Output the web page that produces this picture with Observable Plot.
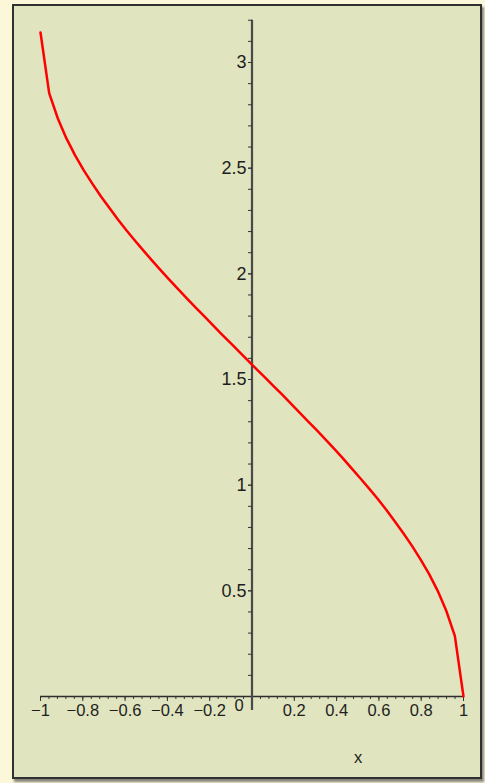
<!DOCTYPE html>
<html><head><meta charset="utf-8">
<script src="https://cdn.jsdelivr.net/npm/d3@7"></script>
<script src="https://cdn.jsdelivr.net/npm/@observablehq/plot@0.6"></script>
<style>
html,body{margin:0;padding:0;background:#fdf7da;width:485px;height:783px;overflow:hidden;}
#frame{position:absolute;left:12px;top:4px;width:470px;height:775px;box-sizing:border-box;background:#e0e4bf;border:2px solid #303030;box-shadow:2px 3px 2px rgba(60,60,60,0.6);}
#chart{position:absolute;left:0;top:0;}
</style></head><body>
<div id="frame"></div><div id="chart"></div>
<script>
// curve samples (x, arccos-like values)
const xs = [-1,-0.959,-0.918,-0.878,-0.837,-0.796,-0.755,-0.714,-0.673,-0.633,-0.592,-0.551,-0.510,-0.469,-0.429,-0.388,-0.347,-0.306,-0.265,-0.224,-0.184,-0.143,-0.102,-0.061,-0.020,
            0.020,0.061,0.102,0.143,0.184,0.224,0.265,0.306,0.347,0.388,0.429,0.469,0.510,0.551,0.592,0.633,0.673,0.714,0.755,0.796,0.837,0.878,0.918,0.959,1];
const ys = [3.142,2.855,2.735,2.642,2.562,2.491,2.427,2.366,2.310,2.256,2.204,2.154,2.106,2.059,2.014,1.969,1.925,1.882,1.839,1.797,1.756,1.714,1.673,1.632,1.591,
            1.550,1.510,1.469,1.428,1.386,1.344,1.302,1.260,1.217,1.173,1.128,1.082,1.035,0.987,0.938,0.886,0.832,0.775,0.715,0.650,0.580,0.500,0.407,0.287,0];

const xMajorTicks = [-1,-0.8,-0.6,-0.4,-0.2,0.2,0.4,0.6,0.8,1];
const xMajorLabels = ["−1","−0.8","−0.6","−0.4","−0.2","0.2","0.4","0.6","0.8","1"];
const xMinorTicks = [-1,-0.96,-0.92,-0.88,-0.84,-0.8,-0.76,-0.72,-0.68,-0.64,-0.6,-0.56,-0.52,-0.48,-0.44,-0.4,-0.36,-0.32,-0.28,-0.24,-0.2,-0.16,-0.12,-0.08,-0.04,
                     0.04,0.08,0.12,0.16,0.2,0.24,0.28,0.32,0.36,0.4,0.44,0.48,0.52,0.56,0.6,0.64,0.68,0.72,0.76,0.8,0.84,0.88,0.92,0.96,1];
const yMajorTicks = [0.5,1,1.5,2,2.5,3];
const yMajorLabels = ["0.5","1","1.5","2","2.5","3"];
const yMinorTicks = [0.1,0.2,0.3,0.4,0.5,0.6,0.7,0.8,0.9,1,1.1,1.2,1.3,1.4,1.5,1.6,1.7,1.8,1.9,2,2.1,2.2,2.3,2.4,2.5,2.6,2.7,2.8,2.9,3,3.1,3.2];
const originLabel = ["0"];
const xAxisExtent = [-1, 1];
const yAxisExtent = [-0.066, 3.2];
const xTitle = "x";

const pts = xs.map((x, i) => ({x, y: ys[i]}));
const xLab = new Map(xMajorTicks.map((t, i) => [t, xMajorLabels[i]]));
const yLab = new Map(yMajorTicks.map((t, i) => [t, yMajorLabels[i]]));

const chart = Plot.plot({
  width: 485,
  height: 783,
  marginLeft: 252,
  marginRight: 22,
  marginTop: 20,
  marginBottom: 87,
  style: {background: "transparent", fontFamily: "'Liberation Sans', Arial, sans-serif", color: "#1e1e1e"},
  x: {domain: [-1, 1], range: [40, 463]},
  y: {domain: [0, 3], range: [696, 62]},
  marks: [
    Plot.ruleY([0], {x1: xAxisExtent[0], x2: xAxisExtent[1], stroke: "#2e2e2e", strokeWidth: 1.6}),
    Plot.ruleX([0], {y1: yAxisExtent[0], y2: yAxisExtent[1], stroke: "#4a4a4a", strokeWidth: 2.2}),
    Plot.axisX(xMinorTicks, {tickSize: 3, tickFormat: () => "", stroke: "#333", label: null}),
    Plot.axisX(xMajorTicks, {tickSize: 5, tickPadding: 3, tickFormat: d => xLab.get(d), fontSize: 16.5, stroke: "#333",
      label: xTitle, labelAnchor: "center", labelArrow: "none", labelOffset: 66}),
    Plot.axisY(yMinorTicks, {tickSize: 4, tickFormat: () => "", stroke: "#333", label: null}),
    Plot.axisY(yMajorTicks, {tickSize: 4, tickPadding: 2, tickFormat: d => yLab.get(d), fontSize: 18, stroke: "#333", label: null}),
    Plot.text(originLabel, {x: 0, y: 0, text: d => d, dx: -13, dy: 9, fontSize: 16.5, fill: "#1e1e1e"}),
    Plot.line(pts, {x: "x", y: "y", stroke: "#ff0000", strokeWidth: 2.5})
  ]
});
document.getElementById("chart").appendChild(chart);
</script>
</body></html>
